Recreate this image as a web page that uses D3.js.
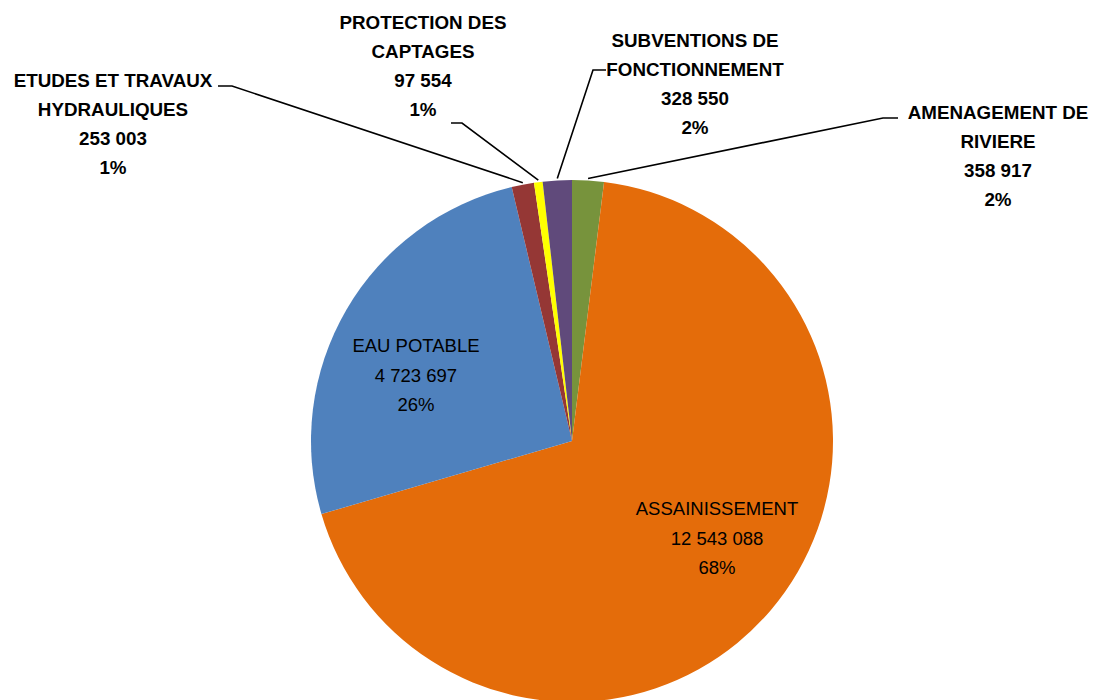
<!DOCTYPE html>
<html>
<head>
<meta charset="utf-8">
<script src="https://cdn.jsdelivr.net/npm/d3@7"></script>
<style>
  html, body { margin: 0; padding: 0; background: #ffffff; }
  svg { display: block; }
</style>
</head>
<body>
<svg id="chart" width="1101" height="700"></svg>
<script>
// ---- data ----
const categories = [
  "AMENAGEMENT DE RIVIERE",
  "ASSAINISSEMENT",
  "EAU POTABLE",
  "ETUDES ET TRAVAUX HYDRAULIQUES",
  "PROTECTION DES CAPTAGES",
  "SUBVENTIONS DE FONCTIONNEMENT"
];
const values = [358917, 12543088, 4723697, 253003, 97554, 328550];
const percentLabels = ["2%", "68%", "26%", "1%", "1%", "2%"];
const nameLines = [
  ["AMENAGEMENT DE", "RIVIERE"],
  ["ASSAINISSEMENT"],
  ["EAU POTABLE"],
  ["ETUDES ET TRAVAUX", "HYDRAULIQUES"],
  ["PROTECTION DES", "CAPTAGES"],
  ["SUBVENTIONS DE", "FONCTIONNEMENT"]
];
const colors = ["#77933C", "#E46C0A", "#4F81BD", "#953735", "#FFFF00", "#604A7B"];

// ---- layout ----
const cx = 572, cy = 441, R = 261;
const layout = [
  { x: 998, y: 112, bold: true,  leader: { x0: 883, x1: 898, y: 118, xs: 883 } },
  { x: 717, y: 509, bold: false, leader: null },
  { x: 416, y: 346, bold: false, leader: null },
  { x: 113, y: 80,  bold: true,  leader: { x0: 218, x1: 232, y: 86, xs: 232 } },
  { x: 423, y: 22,  bold: true,  leader: { x0: 451, x1: 462, y: 123, xs: 462 } },
  { x: 695, y: 40,  bold: true,  leader: { x0: 593, x1: 606, y: 70, xs: 593 } }
];
const lineH = 29.3;

const fmt = d3.formatLocale({ decimal: ",", thousands: " ", grouping: [3], currency: ["", ""] }).format(",d");

const svg = d3.select("#chart");
const g = svg.append("g").attr("transform", `translate(${cx},${cy})`);

const pie = d3.pie().sort(null).value(d => d)(values);
const arc = d3.arc().innerRadius(0).outerRadius(R);
const edgeArc = d3.arc().innerRadius(R).outerRadius(R);

g.selectAll("path.slice")
  .data(pie)
  .join("path")
  .attr("class", "slice")
  .attr("d", arc)
  .attr("fill", (d, i) => colors[i]);

// leader lines
pie.forEach((d, i) => {
  const L = layout[i].leader;
  if (!L) return;
  const [px, py] = edgeArc.centroid(d);
  svg.append("polyline")
    .attr("points", `${L.x0 === L.xs ? L.x1 : L.x0},${L.y} ${L.xs},${L.y} ${cx + px},${cy + py - 2}`)
    .attr("fill", "none")
    .attr("stroke", "#000")
    .attr("stroke-width", 1.6);
});

// labels
pie.forEach((d, i) => {
  const lay = layout[i];
  const lines = nameLines[i].concat([fmt(values[i]), percentLabels[i]]);
  const t = svg.append("text")
    .attr("text-anchor", "middle")
    .attr("font-family", "'Liberation Sans', Arial, sans-serif")
    .attr("font-size", lay.bold ? "18.8px" : "18.5px")
    .attr("font-weight", lay.bold ? "bold" : "normal")
    .attr("fill", "#000");
  lines.forEach((s, k) => {
    t.append("tspan")
      .attr("x", lay.x)
      .attr("y", lay.y + k * lineH)
      .attr("dy", "0.35em")
      .text(s);
  });
});
</script>
</body>
</html>
